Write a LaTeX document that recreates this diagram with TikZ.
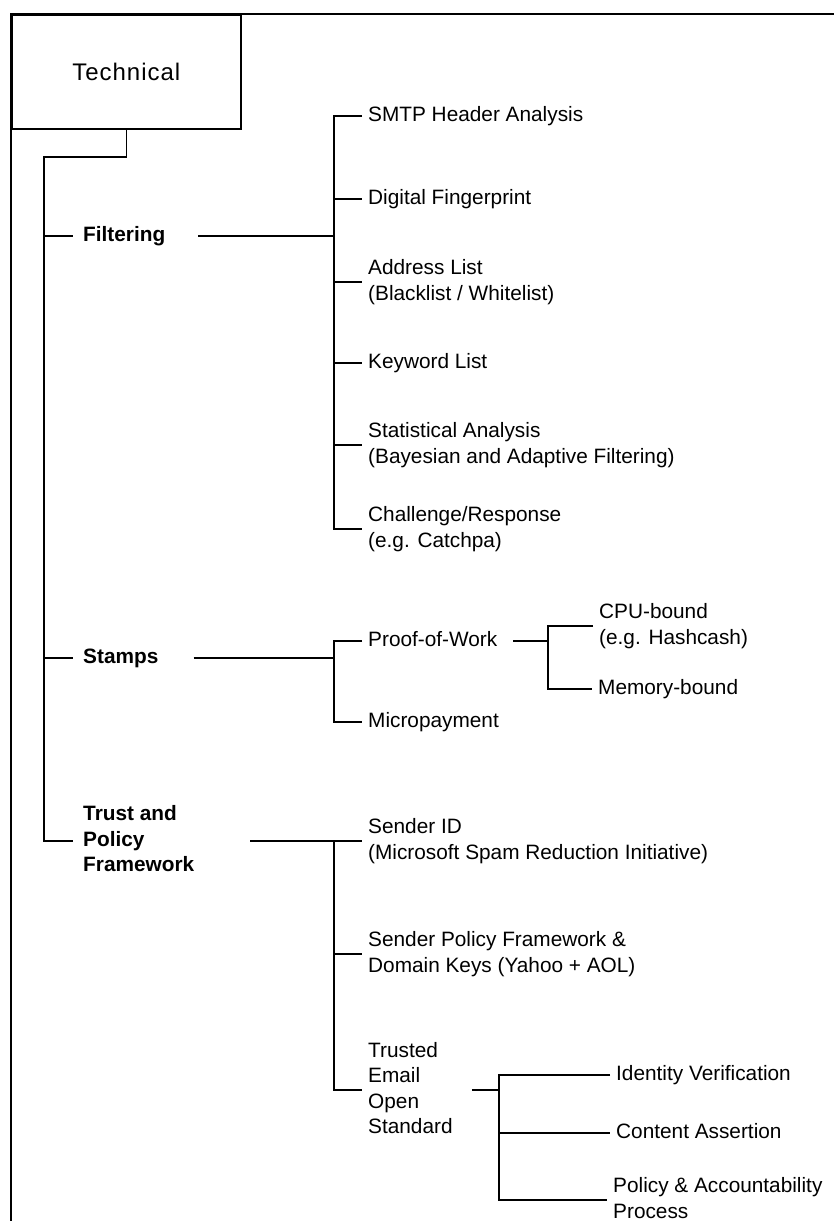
\documentclass[tikz,border=0pt]{standalone}
\usepackage{fontspec}
\setmainfont{Liberation Sans}
\newfontfamily\techfont[LetterSpace=4]{Liberation Sans}
\begin{document}
\begin{tikzpicture}[x=1pt,y=-1pt,
  conn/.style={line width=1.6pt},
  frameline/.style={line width=2.4pt},
  rootbox/.style={draw, line width=1.6pt, anchor=north west, inner sep=0pt,
    minimum width=229pt, minimum height=114pt,
    font=\techfont\fontsize{24}{28}\selectfont},
  leaf/.style={anchor=west, inner xsep=6pt, inner ysep=0pt, align=left,
    font=\fontsize{20.8}{25.3}\selectfont,
    execute at begin node=\vphantom{(}, execute at end node=\vphantom{(}},
  cat/.style={leaf, inner xsep=10pt, font=\bfseries\fontsize{20.8}{25.5}\selectfont}
]
\useasboundingbox (0,0) rectangle (834,1221);

% outer frame (top and left edges)
\draw[frameline] (11,1230) -- (11,14) -- (840,14);

% root
\node[rootbox] (tech) at (11,14) {Technical};
\coordinate (trunk) at (44,157);

% main categories
\node[cat] (filt)   at (73,236) {Filtering};
\node[cat] (stamps) at (73,658) {Stamps};
\node[cat] (trust)  at (73,841) {Trust and\\Policy\\Framework};

% filtering methods
\node[leaf] (smtp) at (362,116) {SMTP Header Analysis};
\node[leaf] (digi) at (362,199) {Digital Fingerprint};
\node[leaf] (addr) at (362,282) {Address List\\(Blacklist / Whitelist)};
\node[leaf] (key)  at (362,363) {Keyword List};
\node[leaf] (stat) at (362,445) {Statistical Analysis\\(Bayesian and Adaptive Filtering)};
\node[leaf] (chal) at (362,529) {Challenge/Response\\(e.g. Catchpa)};
\coordinate (fj) at (334,236);

% stamps
\node[leaf] (pow)   at (362,641) {Proof-of-Work};
\node[leaf] (micro) at (362,722) {Micropayment};
\coordinate (sj) at (334,658);
\node[leaf] (cpu) at (593,626) {CPU-bound\\(e.g. Hashcash)};
\node[leaf] (mem) at (592,689) {Memory-bound};
\coordinate (pj) at (548,641);

% trust and policy framework
\node[leaf] (sid)  at (362,841) {Sender ID\\(Microsoft Spam Reduction Initiative)};
\node[leaf] (spf)  at (362,954) {Sender Policy Framework \&\\Domain Keys (Yahoo + AOL)};
\node[leaf] (teos) at (362,1090) {Trusted\\Email\\Open\\Standard};
\coordinate (tj) at (334,841);
\node[leaf] (idv)  at (610,1075) {Identity Verification};
\node[leaf] (cas)  at (610,1133) {Content Assertion};
\node[leaf] (pacc) at (607,1200) {Policy \& Accountability\\Process};
\coordinate (ej) at (499,1090);

% trunk
\draw[conn] (tech.south) |- (trunk) |- (trust.west);
\draw[conn] (trunk |- filt.west) -- (filt.west);
\draw[conn] (trunk |- stamps.west) -- (stamps.west);

% filtering branch
\draw[conn] ([xshift=23pt]filt.east) -- (fj);
\draw[conn] (smtp.west) -| (fj) |- (chal.west);
\foreach \n in {digi,addr,key,stat}
  \draw[conn] (fj |- \n.west) -- (\n.west);

% stamps branch
\draw[conn] ([xshift=25pt]stamps.east) -- (sj);
\draw[conn] (pow.west) -| (sj) |- (micro.west);
\draw[conn] ([xshift=10pt]pow.east) -- (pj);
\draw[conn] (cpu.west) -| (pj) |- (mem.west);

% trust branch
\draw[conn] ([xshift=46pt]trust.east) -- (sid.west);
\draw[conn] (tj) |- (teos.west);
\draw[conn] (tj |- spf.west) -- (spf.west);
\draw[conn] ([xshift=13pt]teos.east) -- (ej);
\draw[conn] (idv.west) -| (ej) |- (pacc.west);
\draw[conn] (ej |- cas.west) -- (cas.west);
\end{tikzpicture}
\end{document}
